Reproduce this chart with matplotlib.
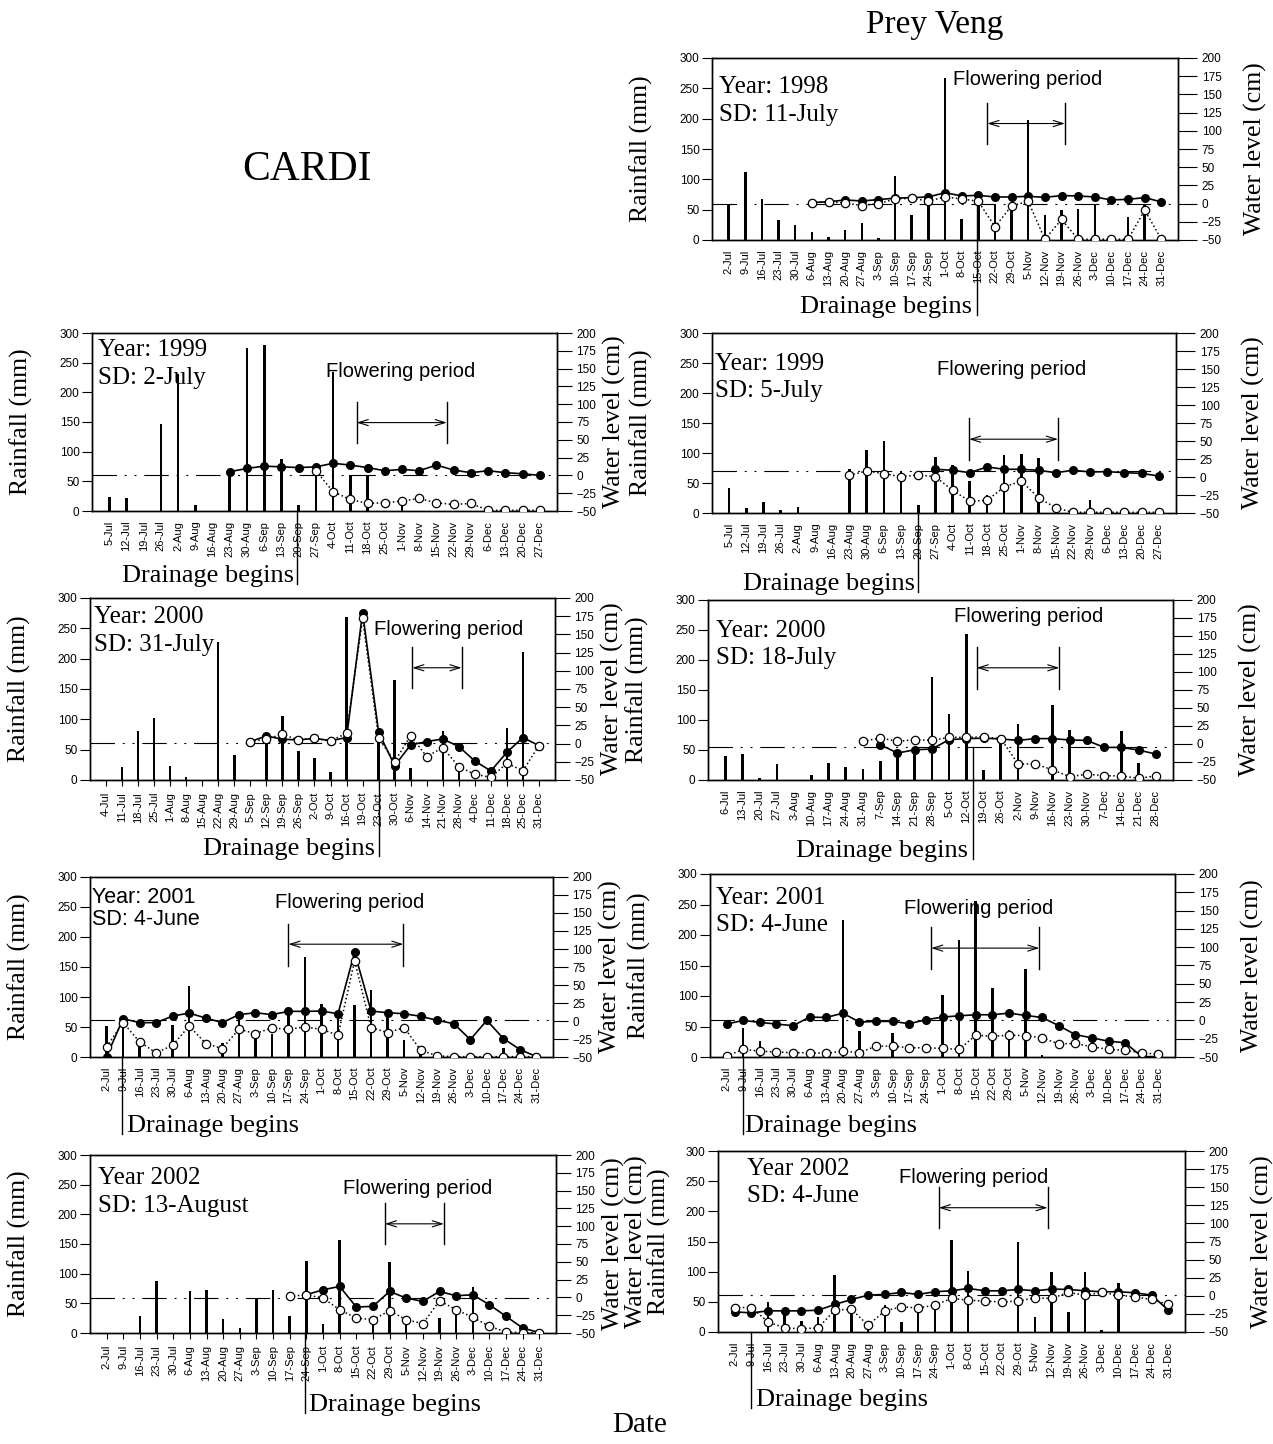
import numpy as np
import matplotlib
matplotlib.use('Agg')
import matplotlib.pyplot as plt

plt.rcParams['font.family'] = 'Liberation Sans'
SERIF = 'Liberation Serif'
nan = np.nan
W, H = 1273, 1444

# ---------------- data ----------------
# tick labels (weekly dates)
dates_2jul = ("2-Jul 9-Jul 16-Jul 23-Jul 30-Jul 6-Aug 13-Aug 20-Aug 27-Aug 3-Sep 10-Sep "
              "17-Sep 24-Sep 1-Oct 8-Oct 15-Oct 22-Oct 29-Oct 5-Nov 12-Nov 19-Nov 26-Nov "
              "3-Dec 10-Dec 17-Dec 24-Dec 31-Dec").split()
dates_5jul = ("5-Jul 12-Jul 19-Jul 26-Jul 2-Aug 9-Aug 16-Aug 23-Aug 30-Aug 6-Sep 13-Sep "
              "20-Sep 27-Sep 4-Oct 11-Oct 18-Oct 25-Oct 1-Nov 8-Nov 15-Nov 22-Nov 29-Nov "
              "6-Dec 13-Dec 20-Dec 27-Dec").split()
dates_c00 = ("4-Jul 11-Jul 18-Jul 25-Jul 1-Aug 8-Aug 15-Aug 22-Aug 29-Aug 5-Sep 12-Sep "
             "19-Sep 26-Sep 2-Oct 9-Oct 16-Oct 19-Oct 23-Oct 30-Oct 6-Nov 14-Nov 21-Nov "
             "28-Nov 4-Dec 11-Dec 18-Dec 25-Dec 31-Dec").split()
dates_p00 = ("6-Jul 13-Jul 20-Jul 27-Jul 3-Aug 10-Aug 17-Aug 24-Aug 31-Aug 7-Sep 14-Sep "
             "21-Sep 28-Sep 5-Oct 12-Oct 19-Oct 26-Oct 2-Nov 9-Nov 16-Nov 23-Nov 30-Nov "
             "7-Dec 14-Dec 21-Dec 28-Dec").split()

# Prey Veng 1998
pv98_rain = [58, 112, 67, 33, 25, 14, 5, 16, 28, 3, 106, 41, 63, 267, 34, 60, 59, 57, 198,
             42, 49, 51, 59, 0, 38, 60, 0]
pv98_fill = [nan] * 5 + [1.5, 2.5, 5, 3.6, 5.5, 7.5, 8.2, 9.1, 15, 10.5, 11.4, 9.1, 9.1, 10,
                         8.6, 11, 10.5, 9.1, 5, 5.9, 8.2, 2.3]
pv98_open = [nan] * 5 + [1.4, 2.3, 0.9, -2.7, 0, 6.4, 7.3, 3.6, 9.1, 6.4, 3.2, -31.8, -3.2,
                         3.2, -49, -21.8, -49, -49, -49, -49, -9, -49]

# CARDI 1999
c99_rain = [24, 22, 0, 147, 231, 10, 0, 65, 275, 280, 87, 10, 70, 235, 60, 60, 0, 15, 0, 0,
            0, 0, 0, 0, 0, 0]
c99_fill = [nan] * 7 + [5.2, 9.8, 13, 12, 11, 12, 17, 14.5, 11, 6.6, 8.4, 6.6, 14.5, 7.5,
                        3.8, 6.6, 3.8, 2.3, 0]
c99_open = [nan] * 12 + [6.6, -23, -33.8, -39.4, -38.5, -36, -32.4, -38.5, -40.8, -39.4,
                         -49, -49, -49, -49]

# Prey Veng 1999
pv99_rain = [42, 8, 18, 4.5, 10, 0, 0, 74, 105, 120, 69, 13, 94, 80, 53, 30, 96, 99, 92, 0,
             0, 21, 0, 0, 0, 0]
pv99_fill = [nan] * 12 + [10.7, 9.3, 6, 14, 10.7, 10.7, 9.3, 6, 9.3, 7, 7.4, 6, 5, 1.4]
pv99_open = [nan] * 7 + [2.3, 8.4, 4.6, 0.5, 2.8, 0.5, -18.6, -33.5, -32.5, -14, -5.6,
                         -28.8, -42.8, -49, -49, -49, -49, -49, -49]

# CARDI 2000
c00_rain = [0, 22, 81, 103, 23, 4.4, 0, 228, 42, 0, 69, 106, 47, 37, 13, 268, 0, 75, 165,
            20, 0, 81, 13, 0, 0, 86, 211, 0]
c00_fill = [nan] * 9 + [2.8, 10.5, 6, 5, 7.3, 4, 8.3, 180, 15.6, -30.3, -1.8, 2.8, 6.4,
                        -4.1, -23.9, -37.6, -11.9, 8.3, -2.8]
c00_open = [nan] * 9 + [2.8, 6.4, 12.8, 5, 7.3, 3.7, 14.2, 172, 7.3, -24.8, 11, -17.9,
                        -5.5, -31.7, -42.2, -46.3, -27, -37.2, -2.8]

# Prey Veng 2000
pv00_rain = [40, 43, 3, 26, 0, 8, 29, 21, 18, 31, 45, 50, 172, 110, 244, 17, 67, 93, 0,
             125, 84, 0, 0, 81, 29, 0]
pv00_fill = [nan] * 9 + [-1, -12.6, -8, -7, 6, 7.5, 8, 7, 5, 7.5, 7.5, 5.6, 5, -4.7, -4.7,
                         -8.4, -14]
pv00_open = [nan] * 8 + [3.7, 8.4, 3.7, 6, 5, 9.3, 9.3, 9.8, 7.5, -27.6, -27.6, -36,
                         -45.3, -42, -43.9, -44.4, -47.6, -44.4]

# CARDI 2001
c01_rain = [51, 60, 19, 0, 54, 118, 0, 24, 69, 40, 39, 76, 167, 88, 73, 87, 112, 73, 29,
            12, 0, 0, 0, 0, 15, 0, 0]
c01_fill = [-49.5, 3.2, -2.3, -2.3, 6.9, 11, 4.1, -2.3, 8.8, 11.5, 8.8, 13.4, 13.4, 13.8,
            10.1, 95.4, 13.8, 11.5, 10.1, 6.5, 0.9, -3.7, -25.8, 0.9, -24.4, -39.6, -49.5]
c01_open = [-36, -2.3, -29, -44.3, -33.7, -6.9, -31.3, -38.3, -11.5, -17.5, -9.7, -11.5,
            -8.3, -11.5, -19.8, 83.9, -9.2, -16.1, -9.2, -40.6, -48.4, -49.5, -49.5, -49.5,
            -49.5, -49.5, -49.5]

# Prey Veng 2001
pv01_rain = [0, 48, 27, 0, 0, 0, 0, 225, 42, 0, 40, 0, 0, 102, 192, 255, 113, 45, 145, 4,
             0, 0, 0, 0, 0, 0, 0]
pv01_fill = [-5, 0, -2.7, -5, -7.2, 4.5, 4, 9.9, -2.3, -1.4, -1.4, -4.5, 0.9, 4.5, 6.3,
             7.7, 7.7, 9.9, 6.8, 4, -7.2, -19.4, -23.9, -28.4, -30.6, -49.5, -49.5]
pv01_open = [-48.6, -39.6, -41.9, -43.2, -44.1, -44.1, -45, -41.9, -44.1, -35.1, -35.1,
             -37.4, -37.4, -38.3, -39.6, -20.3, -21.6, -20.3, -20.7, -23.9, -32, -31.5,
             -36, -39.6, -41, -44.1, -46.4]

# CARDI 2002
c02_rain = [0, 0, 28, 88, 0, 71, 73, 24, 8, 59, 72, 28, 121, 15, 156, 0, 22, 119, 22, 0,
            26, 31, 78, 0, 0, 0, 0]
c02_fill = [nan] * 12 + [3.7, 10.7, 15.4, -13.5, -12.6, 8.4, -0.9, -5.6, 8.4, 2.3, 3.7,
                         -10.3, -26.6, -43, -49.5]
c02_open = [nan] * 11 + [1.4, 3.7, -0.9, -17.3, -29, -31.3, -18.7, -31.3, -36.9, -4.7,
                         -17.3, -28, -40.6, -48.6, -49.5, -49.5]

# Prey Veng 2002
pv02_rain = [0, 0, 50, 30, 19, 25, 95, 40, 10, 45, 17, 40, 50, 152, 101, 0, 0, 149, 25,
             100, 33, 100, 4, 81, 0, 0, 0]
pv02_fill = [-22.2, -23.6, -20.8, -20.8, -20.8, -19.9, -12, -5.1, 0.9, 1.9, 4.6, 1.9, 5.6,
             6.9, 10.2, 6.9, 6.9, 8.8, 6.9, 9.3, 8.8, 6.9, 5.6, 5.6, 4.2, 0.9, -19.9]
pv02_open = [-16.2, -16.2, -36.1, -44.4, -45.4, -44.4, -19.9, -18.5, -40.7, -20.8, -15.3,
             -16.7, -13, -3.7, -6, -7.4, -8.3, -7.4, -2.8, -3.7, 4.6, 0.9, 4.6, 0.9, -1.4,
             -5.1, -12]

# reference (dash-dot) level in rainfall units, per panel
ref_levels = [60, 60, 70, 61.6, 55.5, 62, 60.4, 59, 61]


# ---------------- drawing ----------------
fig = plt.figure(figsize=(W / 100, H / 100), dpi=100)


def draw_panel(rect, labels, rain, wl_fill, wl_open, ref, year, sd, year_pos, flower,
               flower_txt, drain, side, year_serif=True, xtick_len=0, left_labels=None):
    l, t, r, b = rect
    ax = fig.add_axes([l / W, 1 - b / H, (r - l) / W, (b - t) / H])
    ax2 = ax.twinx()
    n = len(labels)
    x = np.arange(n)

    ax.bar(x, rain, width=0.15, color='black', zorder=2)
    ax.axhline(ref, color='black', lw=0.8, dashes=(22, 7, 1.8, 7, 1.8, 7), zorder=1.5)

    ax2.plot(x, wl_fill, '-', color='black', lw=1.2, marker='o', ms=5.5, mfc='black',
             mec='black', zorder=3)
    ax2.plot(x, wl_open, ':', color='black', lw=1.1, marker='o', ms=6, mfc='white',
             mec='black', mew=0.9, zorder=4)

    ax.set_xlim(-1, n)
    ax.set_ylim(0, 300)
    ax.set_yticks(range(0, 301, 50))
    ax2.set_ylim(-50, 200)
    ax2.set_yticks(range(-50, 201, 25))
    ax.set_xticks(x)
    ax.set_xticklabels(labels, rotation=90, fontsize=8)
    ax.tick_params(axis='x', length=xtick_len, pad=7 - xtick_len * 0.6, width=0.8)
    ax.tick_params(axis='y', direction='out', length=7, width=0.8, labelsize=8.5, pad=2)
    ax2.tick_params(axis='y', direction='out', length=14 if side == 'pv' else 11,
                    width=0.8, labelsize=8.5, pad=3)
    for a in (ax, ax2):
        for s in a.spines.values():
            s.set_linewidth(1.0)

    # year / sowing date text
    yx, y1, y2 = year_pos
    kw = dict(family=SERIF, fontsize=18) if year_serif else dict(fontsize=15.5)
    ax.text(yx, y1, year, transform=ax.transAxes, va='top', ha='left', zorder=0.5, **kw)
    ax.text(yx, y2, sd, transform=ax.transAxes, va='top', ha='left', zorder=0.5, **kw)

    # flowering period bracket
    fx1, fx2, flo, fhi, fya = flower
    ax.plot([fx1, fx1], [flo, fhi], color='black', lw=1.0)
    ax.plot([fx2, fx2], [flo, fhi], color='black', lw=1.0)
    ax.annotate('', xy=(fx1, fya), xytext=(fx2, fya),
                arrowprops=dict(arrowstyle='<->,head_length=0.7,head_width=0.22',
                                lw=0.8, color='black', shrinkA=0, shrinkB=0))
    ax.text(flower_txt[0], flower_txt[1], 'Flowering period', ha='left', va='center',
            fontsize=14.5)

    # drainage begins
    dx, dtop, dtx, dha, dty = drain
    trans = ax.get_xaxis_transform()
    ax.plot([dx, dx], [dtop / 300, dty - 0.01], transform=trans, color='black', lw=1.0,
            clip_on=False)
    ax.text(dtx, dty, 'Drainage begins', transform=trans, ha=dha, va='baseline',
            family=SERIF, fontsize=19)

    # axis labels
    wpx = r - l
    if left_labels is None:
        left_labels = [('Rainfall (mm)', 71)]
    for txt, off in left_labels:
        ax.text(-off / wpx, 0.5, txt, rotation=90, transform=ax.transAxes, ha='center',
                va='center', family=SERIF, fontsize=18.5)
    roff = 77 if side == 'pv' else 57
    ax.text(1 + roff / wpx, 0.5, 'Water level (cm)', rotation=90, transform=ax.transAxes,
            ha='center', va='center', family=SERIF, fontsize=18.5)
    return ax


# Prey Veng 1998
draw_panel((712, 58, 1178, 240), dates_2jul, pv98_rain, pv98_fill, pv98_open, ref_levels[0],
           'Year: 1998', 'SD: 11-July', (0.016, 0.9, 0.745),
           (15.55, 20.2, 158, 226, 192), (13.5, 265),
           (14.93, 60, 14.65, 'right', -0.40), 'pv')
# CARDI 1999
draw_panel((92, 333, 557, 511), dates_5jul, c99_rain, c99_fill, c99_open, ref_levels[1],
           'Year: 1999', 'SD: 2-July', (0.012, 0.965, 0.81),
           (14.37, 19.6, 114, 183, 149), (12.57, 235),
           (10.9, 0, 10.7, 'right', -0.40), 'cardi')
# Prey Veng 1999
draw_panel((712, 333, 1176, 513), dates_5jul, pv99_rain, pv99_fill, pv99_open, ref_levels[2],
           'Year: 1999', 'SD: 5-July', (0.007, 0.89, 0.74),
           (13.96, 19.13, 88, 158, 123), (12.1, 239),
           (11.0, 0, 10.8, 'right', -0.43), 'pv')
# CARDI 2000
draw_panel((90, 598, 555, 780), dates_c00, c00_rain, c00_fill, c00_open, ref_levels[3],
           'Year: 2000', 'SD: 31-July', (0.009, 0.955, 0.80),
           (19.1, 22.17, 151, 219, 185), (16.7, 248),
           (17.03, 0, 16.76, 'right', -0.41), 'cardi', xtick_len=4)
# Prey Veng 2000
draw_panel((708, 600, 1173, 780), dates_p00, pv00_rain, pv00_fill, pv00_open, ref_levels[4],
           'Year: 2000', 'SD: 18-July', (0.018, 0.89, 0.74),
           (14.6, 19.4, 152, 222, 187), (13.3, 272),
           (14.37, 55.5, 14.11, 'right', -0.43), 'pv')
# CARDI 2001
draw_panel((90, 877, 553, 1057), dates_2jul, c01_rain, c01_fill, c01_open, ref_levels[5],
           'Year: 2001', 'SD: 4-June', (0.005, 0.945, 0.82),
           (11.0, 17.95, 152, 221, 188), (10.2, 258),
           (0.92, 0, 1.22, 'left', -0.417), 'cardi', year_serif=False)
# Prey Veng 2001
draw_panel((710, 874, 1175, 1057), dates_2jul, pv01_rain, pv01_fill, pv01_open, ref_levels[6],
           'Year: 2001', 'SD: 4-June', (0.013, 0.93, 0.78),
           (12.32, 18.83, 145, 213, 178.5), (10.66, 244),
           (1.0, 0, 1.1, 'left', -0.41), 'pv')
# CARDI 2002
draw_panel((90, 1155, 556, 1333), dates_2jul, c02_rain, c02_fill, c02_open, ref_levels[7],
           'Year 2002', 'SD: 13-August', (0.018, 0.935, 0.775),
           (16.72, 20.26, 150, 219, 184), (14.2, 244),
           (11.92, 0, 12.16, 'left', -0.44), 'cardi', xtick_len=4)
# Prey Veng 2002
draw_panel((718, 1151, 1185, 1332), dates_2jul, pv02_rain, pv02_fill, pv02_open, ref_levels[8],
           'Year 2002', 'SD: 4-June', (0.063, 0.96, 0.81),
           (12.24, 18.76, 172, 241, 206), (9.83, 256),
           (0.96, 0, 1.26, 'left', -0.41), 'pv',
           left_labels=[('Water level (cm)', 82), ('Rainfall (mm)', 59)])

# titles
fig.text(935 / W, 1 - 25 / H, 'Prey Veng', ha='center', va='center', family=SERIF, fontsize=24)
fig.text(307 / W, 1 - 170 / H, 'CARDI', ha='center', va='center', family=SERIF, fontsize=30)
fig.text(640 / W, 1 - 1425 / H, 'Date', ha='center', va='center', family=SERIF, fontsize=21)

fig.savefig('out.png', dpi=100)
